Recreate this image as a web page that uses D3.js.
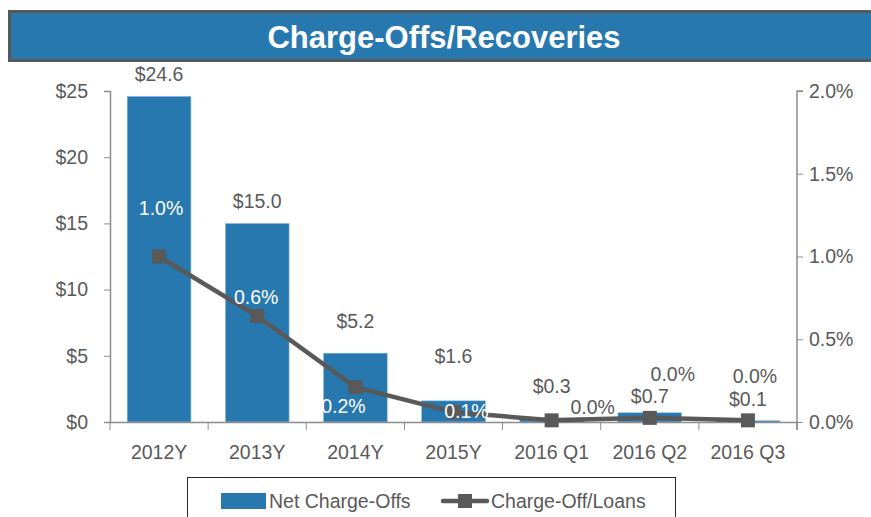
<!DOCTYPE html>
<html>
<head>
<meta charset="utf-8">
<script src="https://cdn.jsdelivr.net/npm/d3@7"></script>
<style>
  body { margin: 0; background: #fff; }
  text { font-family: "Liberation Sans", Arial, sans-serif; }
</style>
</head>
<body>
<script>
// data
var categories = ["2012Y", "2013Y", "2014Y", "2015Y", "2016 Q1", "2016 Q2", "2016 Q3"];
var netChargeOffs = [24.6, 15.0, 5.2, 1.6, 0.3, 0.7, 0.1];
var chargeOffRatio = [1.0, 0.64, 0.21, 0.06, 0.01, 0.025, 0.01];
var ratioLabels = ["1.0%", "0.6%", "0.2%", "0.1%", "0.0%", "0.0%", "0.0%"];
var leftTicks = [0, 5, 10, 15, 20, 25];
var rightTicks = [0, 0.5, 1.0, 1.5, 2.0];

var width = 871, height = 517;
var blue = "#2878b0", gray = "#595959", axisGray = "#8c8c8c";
var fs = 19.5;

var svg = d3.select("body").append("svg")
    .attr("width", width)
    .attr("height", height);

// title banner
svg.append("rect")
    .attr("x", 9.5).attr("y", 11.5)
    .attr("width", 880).attr("height", 49)
    .attr("fill", blue)
    .attr("stroke", gray)
    .attr("stroke-width", 3);
svg.append("text")
    .attr("x", 444).attr("y", 37)
    .attr("text-anchor", "middle")
    .attr("dominant-baseline", "central")
    .attr("fill", "#fff")
    .attr("font-size", 31)
    .attr("font-weight", "bold")
    .text("Charge-Offs/Recoveries");

var plot = { left: 110, right: 797, top: 91, bottom: 422 };

var x = d3.scaleBand().domain(categories).range([plot.left, plot.right]).paddingInner(0.35).paddingOuter(0.175);
var xBand = d3.scaleBand().domain(categories).range([plot.left, plot.right]);
var yL = d3.scaleLinear().domain([0, 25]).range([plot.bottom, plot.top]);
var yR = d3.scaleLinear().domain([0, 2]).range([plot.bottom, plot.top]);

// bars
svg.selectAll(".bar")
    .data(netChargeOffs)
    .enter().append("rect")
    .attr("class", "bar")
    .attr("x", function(d, i) { return x(categories[i]); })
    .attr("width", x.bandwidth())
    .attr("y", function(d) { return yL(d); })
    .attr("height", function(d) { return plot.bottom - yL(d); })
    .attr("fill", blue)
    .attr("stroke", "#9cc3e0")
    .attr("stroke-width", 0.6);

// left axis
var leftAxis = svg.append("g")
    .attr("transform", "translate(" + plot.left + ",0)")
    .call(d3.axisLeft(yL).tickValues(leftTicks).tickSize(6).tickPadding(16)
      .tickFormat(function(d) { return "$" + d; }));

// right axis
var rightAxis = svg.append("g")
    .attr("transform", "translate(" + plot.right + ",0)")
    .call(d3.axisRight(yR).tickValues(rightTicks).tickSize(6).tickPadding(6)
      .tickFormat(function(d) { return d.toFixed(1) + "%"; }));

// bottom axis with ticks on category boundaries
var bottomAxis = svg.append("g")
    .attr("transform", "translate(0," + plot.bottom + ")")
    .call(d3.axisBottom(xBand).tickSize(0).tickPadding(23));
bottomAxis.selectAll(".boundary")
    .data(d3.range(categories.length + 1))
    .enter().append("line")
    .attr("x1", function(i) { return plot.left + i * xBand.step(); })
    .attr("x2", function(i) { return plot.left + i * xBand.step(); })
    .attr("y1", 0).attr("y2", 8)
    .attr("stroke", axisGray);

[leftAxis, rightAxis, bottomAxis].forEach(function(g) {
  g.select(".domain").attr("stroke", axisGray).attr("stroke-width", 1.5);
  g.selectAll(".tick line").attr("stroke", axisGray);
  g.selectAll("text").attr("fill", gray).attr("font-size", fs)
    .attr("font-family", "'Liberation Sans', Arial, sans-serif");
});
rightAxis.select(".domain").attr("d", "M6," + plot.top + "H0V" + (plot.bottom + 8));

// ratio line
var line = d3.line()
    .x(function(d, i) { return xBand(categories[i]) + xBand.bandwidth() / 2; })
    .y(function(d) { return yR(d); });
svg.append("path")
    .datum(chargeOffRatio)
    .attr("d", line)
    .attr("fill", "none")
    .attr("stroke", gray)
    .attr("stroke-width", 4.5);
svg.selectAll(".marker")
    .data(chargeOffRatio)
    .enter().append("rect")
    .attr("class", "marker")
    .attr("x", function(d, i) { return xBand(categories[i]) + xBand.bandwidth() / 2 - 7; })
    .attr("y", function(d) { return yR(d) - 7; })
    .attr("width", 14).attr("height", 14)
    .attr("fill", gray);

// bar value labels (vertical gaps follow the reference layout)
var barLabelGap = [22, 22, 32, 45, 32, 17, 22];
svg.selectAll(".barLabel")
    .data(netChargeOffs)
    .enter().append("text")
    .attr("x", function(d, i) { return x(categories[i]) + x.bandwidth() / 2; })
    .attr("y", function(d, i) { return yL(d) - barLabelGap[i]; })
    .attr("text-anchor", "middle")
    .attr("dominant-baseline", "central")
    .attr("fill", gray)
    .attr("font-size", fs)
    .text(function(d) { return "$" + d.toFixed(1); });

// ratio labels
var ratioOffset = [[2, -49], [-1, -19], [-12, 19], [13, -1], [41, -13], [23, -44], [7, -44]];
var ratioColor = ["#fff", "#fff", "#fff", "#fff", gray, gray, gray];
svg.selectAll(".ratioLabel")
    .data(chargeOffRatio)
    .enter().append("text")
    .attr("x", function(d, i) { return xBand(categories[i]) + xBand.bandwidth() / 2 + ratioOffset[i][0]; })
    .attr("y", function(d, i) { return yR(d) + ratioOffset[i][1]; })
    .attr("text-anchor", "middle")
    .attr("dominant-baseline", "central")
    .attr("fill", function(d, i) { return ratioColor[i]; })
    .attr("font-size", fs)
    .text(function(d, i) { return ratioLabels[i]; });

// legend
var legend = svg.append("g");
legend.append("rect")
    .attr("x", 187.5).attr("y", 477.5)
    .attr("width", 488).attr("height", 60)
    .attr("fill", "#fff")
    .attr("stroke", "#262626");
legend.append("rect")
    .attr("x", 221).attr("y", 493)
    .attr("width", 45).attr("height", 16)
    .attr("fill", blue);
legend.append("text")
    .attr("x", 269).attr("y", 501)
    .attr("dominant-baseline", "central")
    .attr("fill", gray).attr("font-size", fs)
    .text("Net Charge-Offs");
legend.append("line")
    .attr("x1", 443).attr("x2", 487).attr("y1", 501).attr("y2", 501)
    .attr("stroke", gray).attr("stroke-width", 4.5).attr("stroke-linecap", "round");
legend.append("rect")
    .attr("x", 458).attr("y", 494).attr("width", 14).attr("height", 14)
    .attr("fill", gray);
legend.append("text")
    .attr("x", 491).attr("y", 501)
    .attr("dominant-baseline", "central")
    .attr("fill", gray).attr("font-size", fs)
    .text("Charge-Off/Loans");
</script>
</body>
</html>
